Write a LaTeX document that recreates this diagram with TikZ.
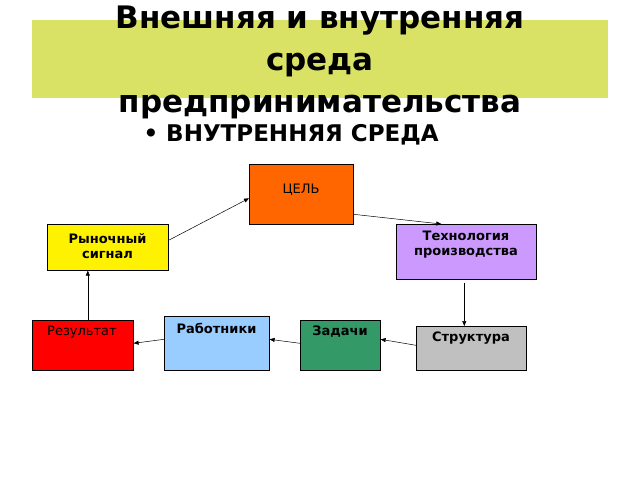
\documentclass[tikz,border=0pt]{standalone}
\usepackage{fontspec}
\setmainfont{DejaVu Sans}
\usetikzlibrary{arrows.meta}
\begin{document}
\begin{tikzpicture}[x=1pt,y=-1pt,
  bx/.style={draw=black,line width=0.6pt,anchor=north west,inner sep=0pt},
  lbl/.style={font=\fontsize{13}{15}\selectfont\bfseries,align=center},
  arr/.style={-{Triangle[length=5pt,width=4pt]},line width=0.5pt}]
\useasboundingbox (0,0) rectangle (640,480);
\fill[white] (0,0) rectangle (640,480);
\fill[fill={rgb,255:red,217;green,226;blue,100}] (32,20) rectangle (608,98);
\node[font=\fontsize{31}{42}\selectfont\bfseries,align=center] (title) at (320,62) {Внешняя и внутренняя\\среда\\предпринимательства};
\node[font=\fontsize{23}{26}\selectfont\bfseries,anchor=west] (sub) at (140,135) {• ВНУТРЕННЯЯ СРЕДА};
\node[bx,fill={rgb,255:red,255;green,102;blue,0},minimum width=104,minimum height=60] (cel) at (249,164) {};
\node[font=\fontsize{13}{15}\selectfont] at (301,190) {ЦЕЛЬ};
\node[bx,fill=yellow,minimum width=121,minimum height=46] (ryn) at (47,224) {};
\node[lbl] at (107.5,246) {Рыночный\\сигнал};
\node[bx,fill={rgb,255:red,204;green,153;blue,255},minimum width=140,minimum height=55] (teh) at (396,224) {};
\node[lbl] at (466,245) {Технология\\производства};
\node[bx,fill=red,minimum width=101,minimum height=50] (res) at (32,320) {};
\node[font=\fontsize{13}{15}\selectfont] at (82,332) {Результат};
\node[bx,fill={rgb,255:red,153;green,204;blue,255},minimum width=105,minimum height=54] (rab) at (164,316) {};
\node[lbl] at (216.5,328) {Работники};
\node[bx,fill={rgb,255:red,51;green,153;blue,102},minimum width=80,minimum height=50] (zad) at (300,320) {};
\node[lbl] at (340,332) {Задачи};
\node[bx,fill={rgb,255:red,192;green,192;blue,192},minimum width=110,minimum height=44] (str) at (416,326) {};
\node[lbl] at (471,338) {Структура};
\draw[arr] (ryn.east) ++(0,-7) -- ([yshift=-4pt]cel.west);
\draw[arr] ([yshift=-20pt]cel.east) -- ([xshift=-25pt]teh.north);
\draw[arr] ([yshift=-3pt,xshift=-2pt]teh.south) -- ([xshift=-7pt]str.north);
\draw[arr] ([yshift=3pt]str.west) -- ([yshift=6pt]zad.east);
\draw[arr] ([yshift=2pt]zad.west) -- ([yshift=4pt]rab.east);
\draw[arr] ([yshift=4pt]rab.west) -- ([yshift=2pt]res.east);
\draw[arr] ([xshift=5pt]res.north) -- ([xshift=-20pt]ryn.south);
\end{tikzpicture}
\end{document}
